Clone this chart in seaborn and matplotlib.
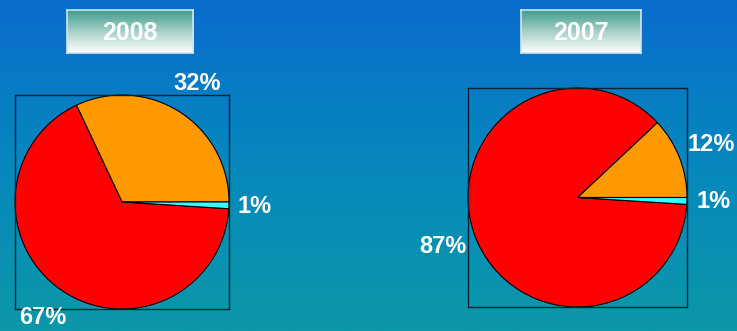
import numpy as np
import seaborn as sns
import matplotlib.pyplot as plt
from matplotlib.colors import LinearSegmentedColormap

sns.set_theme(style="white")
plt.rcParams['font.family'] = ['Liberation Sans', 'DejaVu Sans']

# data
years = ["2008", "2007"]
shares_2008 = [32, 67, 1]
shares_2007 = [12, 87, 1]
pct_labels_2008 = ["32%", "67%", "1%"]
pct_labels_2007 = ["12%", "87%", "1%"]

slice_colors = ["#ff9900", "#ff0000", "#33ffff"]
label_dist = [1.31, 1.31, 1.24]

W, H = 737, 331
fig = plt.figure(figsize=(W / 100, H / 100), dpi=100)

# background gradient
bg = fig.add_axes([0, 0, 1, 1])
bg_cmap = LinearSegmentedColormap.from_list("bg", ["#0a6ccc", "#0688bd", "#0c98a8"])
bg.imshow(np.linspace(0, 1, 256).reshape(-1, 1), aspect="auto", cmap=bg_cmap,
          extent=[0, 1, 0, 1])
bg.set_axis_off()

btn_cmap = LinearSegmentedColormap.from_list("btn", ["#3e9e8e", "#a8d0c8", "#ffffff"])


def px_axes(x0, y0, x1, y1):
    return fig.add_axes([x0 / W, (H - y1) / H, (x1 - x0) / W, (y1 - y0) / H])


def title_button(x0, y0, x1, y1, text):
    ax = px_axes(x0, y0, x1, y1)
    ax.imshow(np.linspace(0, 1, 128).reshape(-1, 1), aspect="auto", cmap=btn_cmap,
              extent=[0, 1, 0, 1])
    ax.set_xticks([])
    ax.set_yticks([])
    for s in ax.spines.values():
        s.set_color("#cfe6f0")
        s.set_linewidth(1.2)
    ax.text(0.5, 0.47, text, ha="center", va="center", color="white",
            fontsize=18, fontweight="bold", transform=ax.transAxes)


def pie_panel(box, shares, labels):
    ax = px_axes(*box)
    ax.set_facecolor("none")
    wedges, _ = ax.pie(shares, colors=slice_colors, startangle=0, counterclock=True,
                       frame=True, radius=1.0,
                       wedgeprops=dict(edgecolor="black", linewidth=0.8))
    ax.set_xlim(-1.0, 1.0)
    ax.set_ylim(-1.0, 1.0)
    ax.set_xticks([])
    ax.set_yticks([])
    for s in ax.spines.values():
        s.set_color("#102030")
        s.set_linewidth(1.0)
    for w, lab, d in zip(wedges, labels, label_dist):
        ang = np.deg2rad((w.theta1 + w.theta2) / 2)
        ax.text(d * np.cos(ang), d * np.sin(ang), lab, ha="center", va="center",
                color="white", fontsize=17, fontweight="bold", clip_on=False)


title_button(67, 10, 193, 53, years[0])
title_button(521, 10, 641, 53, years[1])
pie_panel((15, 95, 229, 309), shares_2008, pct_labels_2008)
pie_panel((468, 88, 687, 307), shares_2007, pct_labels_2007)

fig.savefig("out.png", dpi=100)
